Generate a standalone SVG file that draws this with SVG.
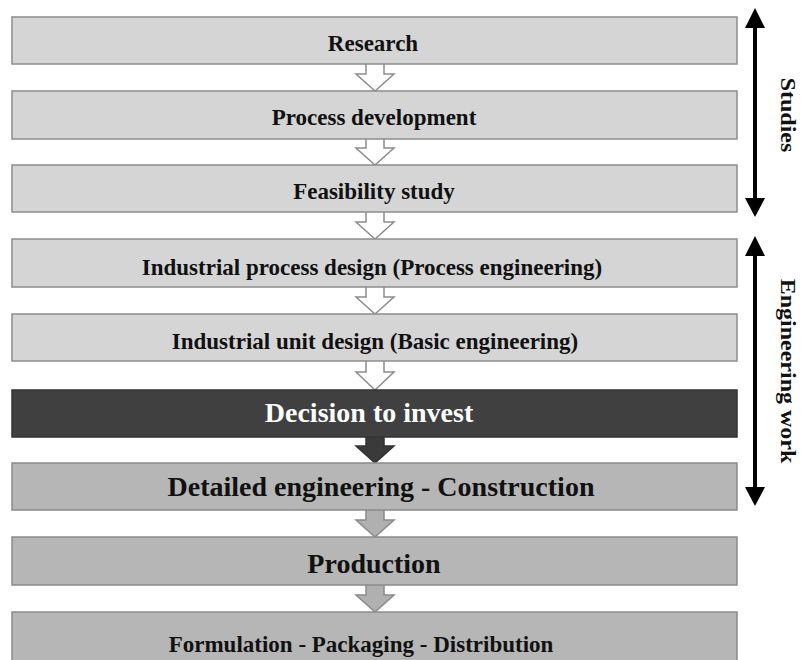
<svg xmlns="http://www.w3.org/2000/svg" width="801" height="660" viewBox="0 0 801 660">
<defs>
<style>
.light{fill:#d5d5d5;stroke:#8c8c8c;stroke-width:1.5}
.dark{fill:#404040;stroke:#333;stroke-width:1.5}
.mid{fill:#b6b6b6;stroke:#8a8a8a;stroke-width:1.5}
.t{font-family:"Liberation Serif","Times New Roman",serif;font-weight:bold;text-anchor:middle;fill:#111}
.s{font-size:23px}
.b{font-size:28px}
.w{fill:#fff}
.ah{fill:#fff;stroke:#8c8c8c;stroke-width:1.5}
.ad{fill:#3a3a3a;stroke:#333;stroke-width:1.5}
.am{fill:#b0b0b0;stroke:#8a8a8a;stroke-width:1.5}
.side{stroke:#000;stroke-width:4;fill:none}
.tip{fill:#000}
</style>
</defs>
<rect width="801" height="660" fill="#fff"/>
<g id="connectors">
<path class="ah" d="M366,63 H384 V74 H394 L375,91 L356,74 H366 Z"/>
<path class="ah" d="M366,138 H384 V148 H394 L375,165 L356,148 H366 Z"/>
<path class="ah" d="M366,211 H384 V222 H394 L375,239 L356,222 H366 Z"/>
<path class="ah" d="M366,286 H384 V297 H394 L375,314 L356,297 H366 Z"/>
<path class="ah" d="M366,360 H384 V372 H394 L375,390 L356,372 H366 Z"/>
<path class="ad" d="M366,436 H384 V446 H394 L375,463 L356,446 H366 Z"/>
<path class="am" d="M366,509 H384 V520 H394 L375,537 L356,520 H366 Z"/>
<path class="am" d="M366,584 H384 V595 H394 L375,612 L356,595 H366 Z"/>
<g id="studies-arrow">
<line class="side" x1="755" y1="24" x2="755" y2="201"/>
<polygon class="tip" points="755,8 765,28 745,28"/>
<polygon class="tip" points="755,217 765,198 745,198"/>
</g>
<g id="engineering-arrow">
<line class="side" x1="755" y1="252" x2="755" y2="490"/>
<polygon class="tip" points="755,236 765,256 745,256"/>
<polygon class="tip" points="755,506 765,487 745,487"/>
</g>
</g>
<g id="research"><rect class="light" x="12" y="17" width="725" height="47"/><text class="t s" x="373" y="51">Research</text></g>
<g id="process-development"><rect class="light" x="12" y="91" width="725" height="48"/><text class="t s" x="374" y="125">Process development</text></g>
<g id="feasibility"><rect class="light" x="12" y="165" width="725" height="47"/><text class="t s" x="374" y="199">Feasibility study</text></g>
<g id="industrial-process"><rect class="light" x="12" y="239" width="725" height="48"/><text class="t s" x="372" y="275">Industrial process design (Process engineering)</text></g>
<g id="industrial-unit"><rect class="light" x="12" y="314" width="725" height="47"/><text class="t s" x="375" y="349">Industrial unit design (Basic engineering)</text></g>
<g id="decision"><rect class="dark" x="12" y="390" width="725" height="47"/><text class="t b w" x="369" y="422">Decision to invest</text></g>
<g id="detailed"><rect class="mid" x="12" y="463" width="725" height="47"/><text class="t b" x="381" y="496">Detailed engineering - Construction</text></g>
<g id="production"><rect class="mid" x="12" y="537" width="725" height="48"/><text class="t b" x="374" y="573">Production</text></g>
<g id="formulation"><rect class="mid" x="12" y="612" width="725" height="50"/><text class="t s" x="361" y="652">Formulation - Packaging - Distribution</text></g>
<g id="labels">
<text class="t" style="font-size:20px" transform="translate(781,115) rotate(90) scale(1.2,1)">Studies</text>
<text class="t" style="font-size:20px" transform="translate(781,371) rotate(90) scale(1.2,1)">Engineering work</text>
</g>
</svg>
